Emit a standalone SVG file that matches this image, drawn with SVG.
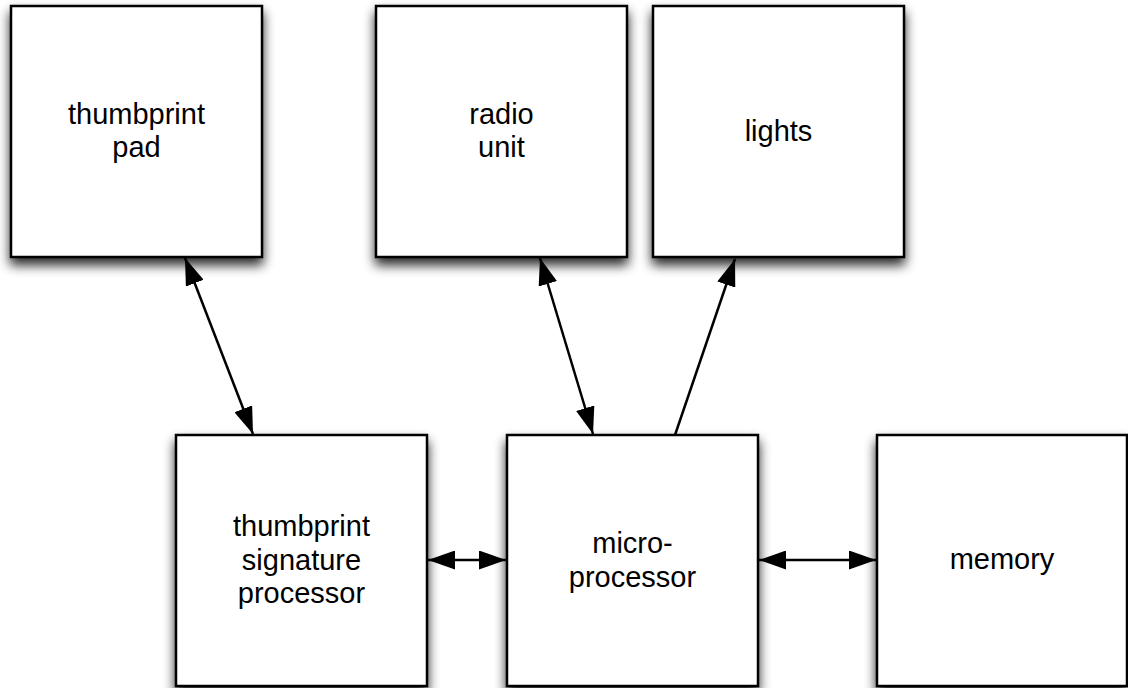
<svg xmlns="http://www.w3.org/2000/svg" width="1128" height="688" viewBox="0 0 1128 688">
<style>
.box{fill:#fff;stroke:#000;stroke-width:2.5}
.lbl{font-family:"Liberation Sans",Arial,Helvetica,sans-serif;font-size:29px;fill:#000;text-anchor:middle}
.con{stroke:#000;stroke-width:2.5;fill:none}
</style>
<defs>
<filter id="sh" x="-20%" y="-20%" width="140%" height="140%">
<feGaussianBlur in="SourceAlpha" stdDeviation="6"/>
<feOffset dx="0" dy="7" result="b"/>
<feComponentTransfer><feFuncA type="linear" slope="0.85"/></feComponentTransfer>
<feMerge><feMergeNode/><feMergeNode in="SourceGraphic"/></feMerge>
</filter>
<marker id="ah" markerUnits="userSpaceOnUse" markerWidth="27" markerHeight="19" refX="27" refY="9.5" orient="auto-start-reverse" viewBox="0 0 27 19">
<path d="M0,0 L27,9.5 L0,19 z" fill="#000"/>
</marker>
</defs>
<rect width="1128" height="688" fill="#fff"/>
<g id="thumbprint-pad">
<rect class="box" x="11" y="6" width="251" height="251" filter="url(#sh)"/>
<text class="lbl" x="136.5" y="124">thumbprint</text>
<text class="lbl" x="136.5" y="157">pad</text>
</g>
<g id="radio-unit">
<rect class="box" x="376" y="6" width="251" height="251" filter="url(#sh)"/>
<text class="lbl" x="501.5" y="124">radio</text>
<text class="lbl" x="501.5" y="157">unit</text>
</g>
<g id="lights">
<rect class="box" x="653" y="6" width="251" height="251" filter="url(#sh)"/>
<text class="lbl" x="778.5" y="141">lights</text>
</g>
<g id="thumbprint-signature-processor">
<rect class="box" x="176" y="435" width="251" height="251" filter="url(#sh)"/>
<text class="lbl" x="301.5" y="536">thumbprint</text>
<text class="lbl" x="301.5" y="570">signature</text>
<text class="lbl" x="301.5" y="603">processor</text>
</g>
<g id="microprocessor">
<rect class="box" x="507" y="435" width="251" height="251" filter="url(#sh)"/>
<text class="lbl" x="632.5" y="553">micro-</text>
<text class="lbl" x="632.5" y="587">processor</text>
</g>
<g id="memory">
<rect class="box" x="877" y="435" width="250" height="251" filter="url(#sh)"/>
<text class="lbl" x="1002" y="569">memory</text>
</g>
<g id="connectors">
<line class="con" x1="185" y1="258" x2="253" y2="434" marker-start="url(#ah)" marker-end="url(#ah)"/>
<line class="con" x1="540" y1="258" x2="593" y2="434" marker-start="url(#ah)" marker-end="url(#ah)"/>
<line class="con" x1="675" y1="435" x2="735" y2="259" marker-end="url(#ah)"/>
<line class="con" x1="428" y1="560" x2="506" y2="560" marker-start="url(#ah)" marker-end="url(#ah)"/>
<line class="con" x1="759" y1="560" x2="876" y2="560" marker-start="url(#ah)" marker-end="url(#ah)"/>
</g>
</svg>
